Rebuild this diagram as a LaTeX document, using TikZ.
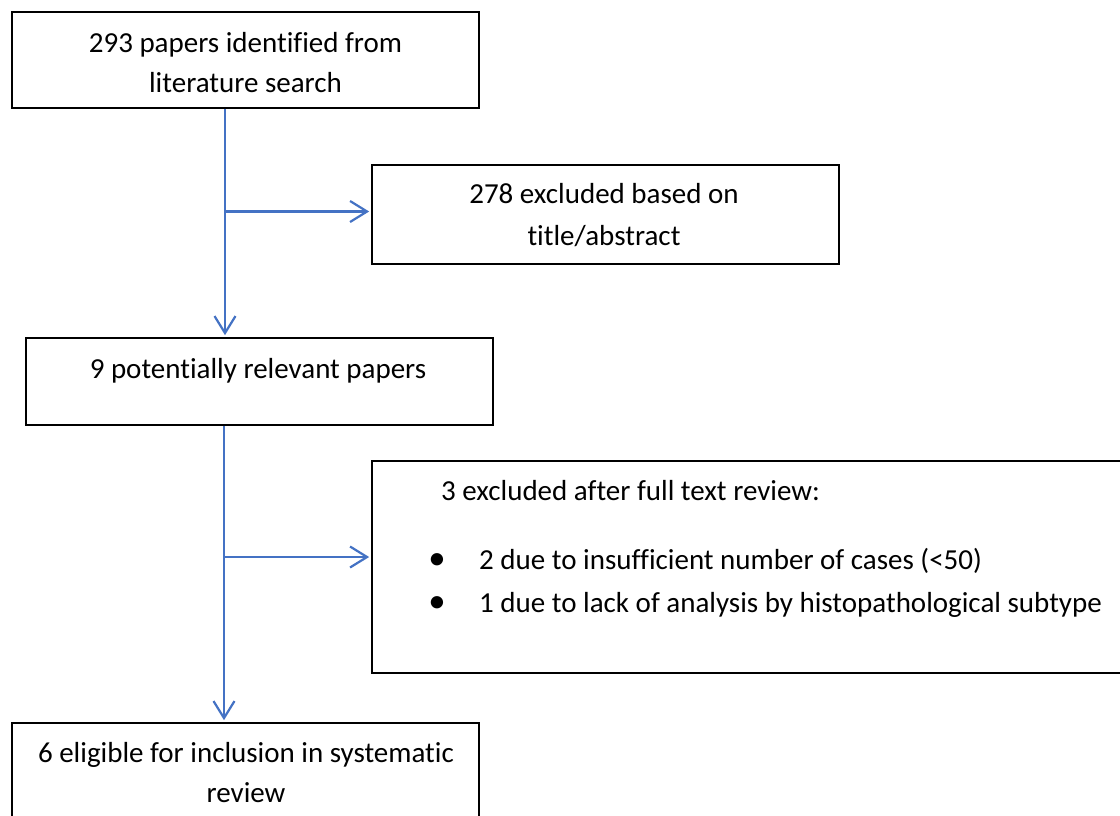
\documentclass[tikz,border=0pt]{standalone}
\usepackage{fontspec}
\setmainfont{Carlito}[Ligatures=NoCommon]
\usetikzlibrary{arrows.meta}
\definecolor{flowblue}{RGB}{68,114,196}
\begin{document}
\begin{tikzpicture}[x=1pt,y=-1pt,
  box/.style={draw=black, line width=1.7pt, rectangle, inner sep=0pt},
  txt/.style={font=\fontsize{29}{40}\selectfont, inner sep=0pt, anchor=base},
  arr/.style={draw=flowblue, line width=2.2pt, shorten >=2pt,
    -{Straight Barb[length=17pt,width=21pt,line width=2.2pt]}}]
\useasboundingbox (0,0) rectangle (1120,815);
\clip (0,0) rectangle (1120,815);
\fill[white] (0,0) rectangle (1120,815);
% boxes
\node[box, minimum width=467pt, minimum height=96pt] (b1) at (245.5,60) {};
\node[box, minimum width=467pt, minimum height=99pt] (b2) at (605.5,214.5) {};
\node[box, minimum width=467pt, minimum height=87pt] (b3) at (259.5,381.5) {};
\node[box, minimum width=768pt, minimum height=212pt] (b4) at (756,567) {};
\node[box, minimum width=467pt, minimum height=117pt] (b5) at (245.5,781.5) {};
% texts
\node[txt] (t1a) at (245.5,52) {293 papers identified from};
\node[txt] (t1b) at (245.5,92) {literature search};
\node[txt] (t2a) at (604,203) {278 excluded based on};
\node[txt] (t2b) at (604,245) {title/abstract};
\node[txt] (t3) at (258,378) {9 potentially relevant papers};
\node[txt, anchor=base west] (t4) at (441,500) {3 excluded after full text review:};
\node[txt, scale=1.2] (bl1) at (437,569) {•};
\node[txt, anchor=base west] (t4a) at (479,569) {2 due to insufficient number of cases (<50)};
\node[txt, scale=1.2] (bl2) at (437,612) {•};
\node[txt, anchor=base west] (t4b) at (479,612) {1 due to lack of analysis by histopathological subtype};
\node[txt] (t5a) at (246,762) {6 eligible for inclusion in systematic};
\node[txt] (t5b) at (246,802) {review};
% connectors
\coordinate (v1) at (225,0);
\coordinate (j1) at (225,211.5);
\coordinate (v2) at (224,0);
\coordinate (j2) at (224,557);
\draw[arr] (b1.south -| v1) -- (b3.north -| v1);
\draw[arr] (j1) -- (j1 -| b2.west);
\draw[arr] (b3.south -| v2) -- (b5.north -| v2);
\draw[arr] (j2) -- (j2 -| b4.west);
\end{tikzpicture}
\end{document}
